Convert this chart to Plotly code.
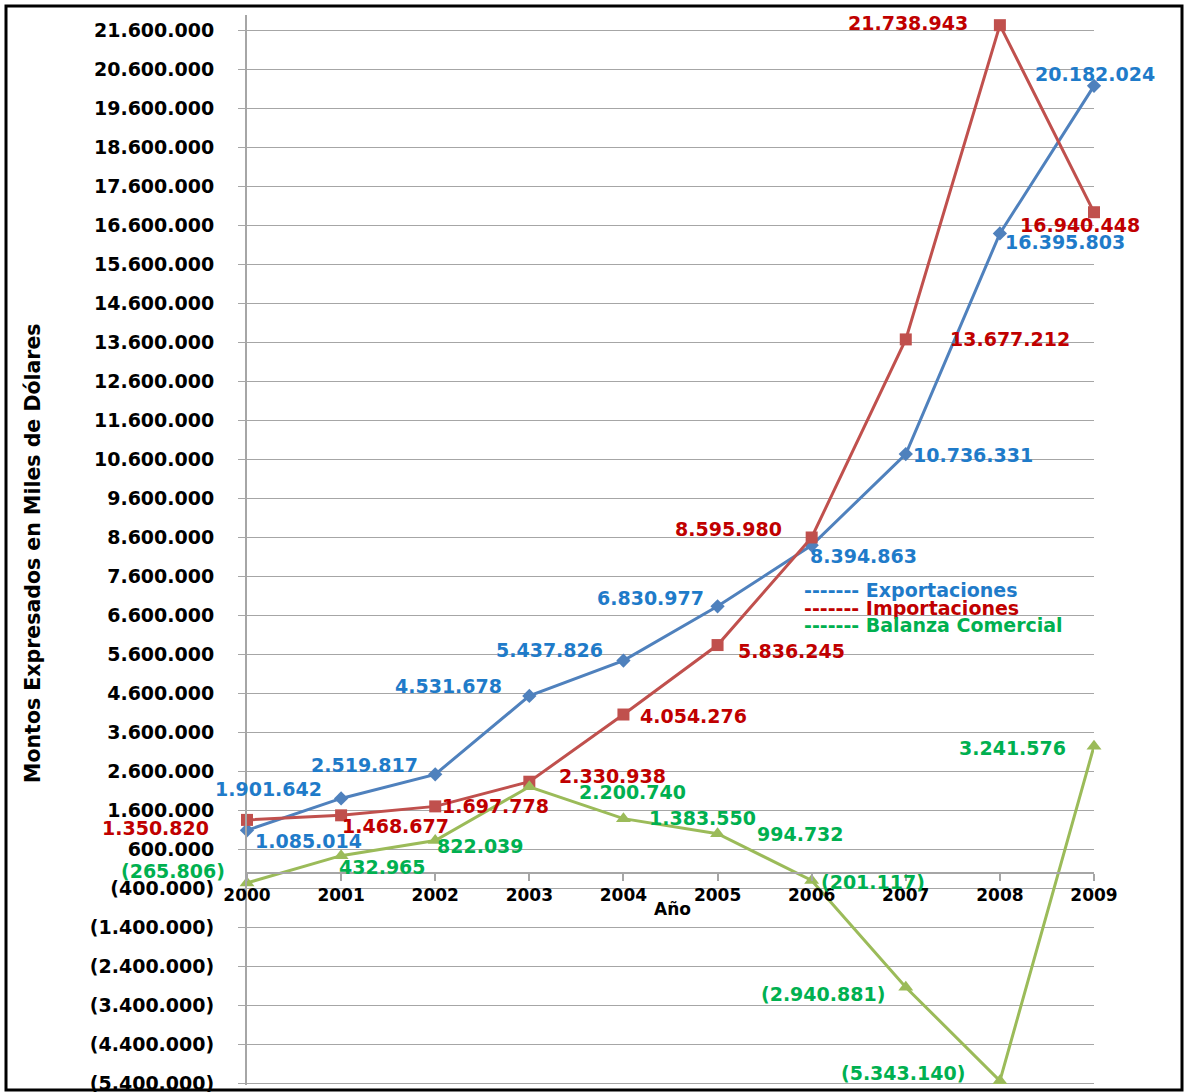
import plotly.graph_objects as go

# ---------------- data ----------------
years = [2000, 2001, 2002, 2003, 2004, 2005, 2006, 2007, 2008, 2009]
exportaciones = [1085014, 1901642, 2519817, 4531678, 5437826, 6830977, 8394863, 10736331, 16395803, 20182024]
importaciones = [1350820, 1468677, 1697778, 2330938, 4054276, 5836245, 8595980, 13677212, 21738943, 16940448]
balanza = [-265806, 432965, 822039, 2200740, 1383550, 994732, -201117, -2940881, -5343140, 3241576]

y_tick_values = [-5400000, -4400000, -3400000, -2400000, -1400000, -400000, 600000, 1600000,
                 2600000, 3600000, 4600000, 5600000, 6600000, 7600000, 8600000, 9600000,
                 10600000, 11600000, 12600000, 13600000, 14600000, 15600000, 16600000,
                 17600000, 18600000, 19600000, 20600000, 21600000]
y_tick_labels = ["(5.400.000)", "(4.400.000)", "(3.400.000)", "(2.400.000)", "(1.400.000)",
                 "(400.000)", "600.000", "1.600.000", "2.600.000", "3.600.000", "4.600.000",
                 "5.600.000", "6.600.000", "7.600.000", "8.600.000", "9.600.000", "10.600.000",
                 "11.600.000", "12.600.000", "13.600.000", "14.600.000", "15.600.000",
                 "16.600.000", "17.600.000", "18.600.000", "19.600.000", "20.600.000",
                 "21.600.000"]
x_tick_labels = ["2000", "2001", "2002", "2003", "2004", "2005", "2006", "2007", "2008", "2009"]

series_names = ["Exportaciones", "Importaciones", "Balanza Comercial"]
y_title = "Montos Expresados en Miles de Dólares"
x_title = "Año"

# ---------------- styles ----------------
W, H = 1185, 1092
L, R, T, B = 247, 91, 15, 7
Y_MIN, Y_MAX = -5450000, 22000000
FONT = "DejaVu Sans"

line_colors = ["#4F81BD", "#C0504D", "#9BBB59"]
text_colors = ["#1F7BC9", "#C00000", "#00B050"]
symbols = ["diamond", "square", "triangle-up"]
msizes = [11, 12, 13]

# label pixel offsets (dx right, dy down)
exp_off = [(61, 11), (-73, -9), (-71, -9), (-81, -10), (-74, -11), (-67, -8), (52, 11), (67, 1), (65, 9), (1, -12)]
imp_off = [(-92, 8), (54, 11), (60, 0), (83, -6), (70, 1), (74, 6), (-83, -8), (104, 0), (-92, -2), (-14, 13)]
bal_off = [(-74, -12), (41, 11), (45, 5), (103, 5), (79, -1), (83, 0), (61, 2), (-83, 7), (-97, -8), (-82, 2)]


def px_x(p):
    return (p - L) / (W - L - R)


def px_y(p):
    return (H - B - p) / (H - T - B)


def fmt(v):
    s = f"{abs(v):,}".replace(",", ".")
    return f"({s})" if v < 0 else s


fig = go.Figure()
all_series = [exportaciones, importaciones, balanza]
offsets = [exp_off, imp_off, bal_off]

for vals, name, lc, sym, ms in zip(all_series, series_names, line_colors, symbols, msizes):
    fig.add_trace(go.Scatter(
        x=years, y=vals, name=name, mode="lines+markers",
        line=dict(color=lc, width=3),
        marker=dict(symbol=sym, size=ms, color=lc),
        cliponaxis=False, showlegend=False,
    ))

annotations = []
for vals, offs, tc in zip(all_series, offsets, text_colors):
    for x, v, (dx, dy) in zip(years, vals, offs):
        annotations.append(dict(
            x=x, y=v, xref="x", yref="y", text=fmt(v), showarrow=False,
            xanchor="center", yanchor="middle", xshift=dx, yshift=-dy,
            font=dict(family=FONT, size=19, color=tc, weight="bold"),
        ))

# legend as text
for i, (name, tc) in enumerate(zip(series_names, text_colors)):
    annotations.append(dict(
        x=px_x(802), y=px_y(590 + 17.5 * i), xref="paper", yref="paper",
        text="------- " + name, showarrow=False, xanchor="left", yanchor="middle",
        font=dict(family=FONT, size=19, color=tc, weight="bold"),
    ))

# axis titles
annotations.append(dict(
    x=px_x(33), y=px_y(553), xref="paper", yref="paper", text=y_title,
    showarrow=False, textangle=-90, xanchor="center", yanchor="middle",
    font=dict(family=FONT, size=20.5, color="black", weight="bold"),
))
annotations.append(dict(
    x=px_x(672), y=px_y(909), xref="paper", yref="paper", text=x_title,
    showarrow=False, xanchor="center", yanchor="middle",
    font=dict(family=FONT, size=17, color="black", weight="bold"),
))

fig.update_layout(
    width=W, height=H,
    margin=dict(l=L, r=R, t=T, b=B, pad=0, autoexpand=False),
    paper_bgcolor="white", plot_bgcolor="white",
    annotations=annotations,
    xaxis=dict(
        range=[2000, 2009], tickvals=years, ticktext=x_tick_labels,
        anchor="free", position=(0 - Y_MIN) / (Y_MAX - Y_MIN),
        showgrid=False, zeroline=False, automargin=False,
        showline=True, linecolor="#A6A6A6", linewidth=2,
        ticks="outside", ticklen=7, tickcolor="#A6A6A6", tickwidth=2,
        tickfont=dict(family=FONT, size=17, color="black", weight="bold"),
    ),
    yaxis=dict(
        range=[Y_MIN, Y_MAX], tickvals=y_tick_values, ticktext=y_tick_labels,
        showgrid=True, gridcolor="#A6A6A6", gridwidth=1, zeroline=False,
        automargin=False,
        showline=True, linecolor="#A6A6A6", linewidth=2,
        ticks="outside", ticklen=7, tickcolor="#A6A6A6", tickwidth=1,
        ticklabelstandoff=20, ticklabeloverflow="allow",
        tickfont=dict(family=FONT, size=19, color="black", weight="bold"),
    ),
    shapes=[dict(
        type="rect", xref="paper", yref="paper",
        x0=px_x(6), x1=px_x(1182), y0=px_y(1090), y1=px_y(6),
        line=dict(color="black", width=3), fillcolor="rgba(0,0,0,0)", layer="above",
    )],
)

fig.write_html(
    "out.html",
    config={"displayModeBar": False},
    post_script="document.body.style.margin='0';document.body.style.overflow='hidden';",
)
